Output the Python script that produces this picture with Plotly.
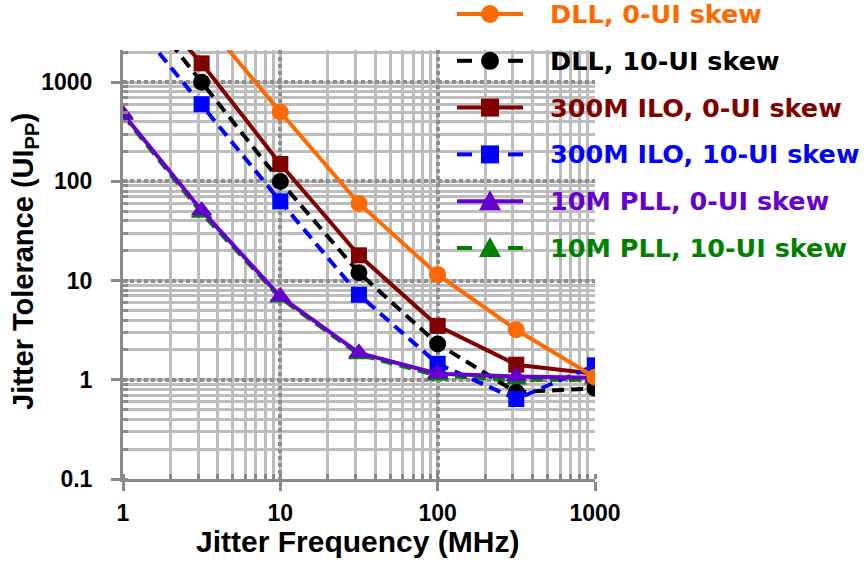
import plotly.graph_objects as go

# Jitter frequency sweep points (MHz)
freq_mhz = [1, 3.16, 10, 31.6, 100, 316, 1000]

# Jitter tolerance (UIpp) per configuration
dll_0ui = [None, 4500, 500, 60, 11.5, 3.2, 1.06]
dll_10ui = [10000, 1000, 100, 12, 2.3, 0.75, 0.82]
ilo_0ui = [12000, 1550, 150, 18, 3.5, 1.42, 1.15]
ilo_10ui = [5500, 600, 63, 7.2, 1.45, 0.64, 1.4]
pll_0ui = [480, 51, 6.9, 1.87, 1.15, 1.08, 1.05]
pll_10ui = [465, 48, 6.7, 1.8, 1.1, 1.0, 1.0]

series_names = [
    "DLL, 0-UI skew",
    "DLL, 10-UI skew",
    "300M ILO, 0-UI skew",
    "300M ILO, 10-UI skew",
    "10M PLL, 0-UI skew",
    "10M PLL, 10-UI skew",
]

y_tickvals = [0.1, 1, 10, 100, 1000]
y_ticktext = ["0.1", "1", "10", "100", "1000"]
x_tickvals = [1, 10, 100, 1000]
x_ticktext = ["1", "10", "100", "1000"]

# ---- styling ----
W, H = 864, 565
PLOT_L, PLOT_R, PLOT_T, PLOT_B = 123, 595, 50, 479
AXIS_GRAY = "#8a8a8a"
MAJOR_GRID = "#8f8f8f"
MINOR_GRID = "#bdbdbd"
LABEL_FONT = "Liberation Sans, Arial, sans-serif"
LEGEND_FONT = "DejaVu Sans, Verdana, sans-serif"
LW = 4
DASH = "12px,7px"

styles = {
    "DLL, 0-UI skew": dict(color="#FF6A00", dash="solid", symbol="circle", size=17),
    "DLL, 10-UI skew": dict(color="#000000", dash=DASH, symbol="circle", size=17),
    "300M ILO, 0-UI skew": dict(color="#800000", dash="solid", symbol="square", size=16),
    "300M ILO, 10-UI skew": dict(color="#0000FF", dash=DASH, symbol="square", size=16),
    "10M PLL, 0-UI skew": dict(color="#6600CC", dash="solid", symbol="triangle-up", size=19),
    "10M PLL, 10-UI skew": dict(color="#008000", dash=DASH, symbol="triangle-up", size=19),
}
values = dict(zip(series_names, [dll_0ui, dll_10ui, ilo_0ui, ilo_10ui, pll_0ui, pll_10ui]))

# stacking order (bottom to top)
draw_order = [
    "10M PLL, 10-UI skew",
    "300M ILO, 0-UI skew",
    "DLL, 10-UI skew",
    "300M ILO, 10-UI skew",
    "10M PLL, 0-UI skew",
    "DLL, 0-UI skew",
]

fig = go.Figure()
for name in draw_order:
    st = styles[name]
    fig.add_trace(go.Scatter(
        x=freq_mhz, y=values[name], name=name, mode="lines+markers",
        line=dict(color=st["color"], width=LW, dash=st["dash"]),
        marker=dict(color=st["color"], symbol=st["symbol"], size=st["size"], line=dict(width=0)),
        connectgaps=False, showlegend=False,
    ))


def paper_x(px):
    return (px - PLOT_L) / (PLOT_R - PLOT_L)


def paper_y(py):
    return (PLOT_B - py) / (PLOT_B - PLOT_T)


# ---- hand-built legend (long sample lines, text in series colour) ----
LEG_X0, LEG_X1, LEG_MID, LEG_TEXT_X = 457, 523, 490, 548
LEG_ROW0, LEG_ROW_STEP = 14, 46.8
shapes = []
annotations = []
for i, name in enumerate(series_names):
    st = styles[name]
    yrow = paper_y(LEG_ROW0 + i * LEG_ROW_STEP)
    if st["dash"] == "solid":
        segs = [(LEG_X0, LEG_X1)]
    else:
        segs = [(LEG_X0, LEG_X0 + 15), (LEG_X1 - 15, LEG_X1)]
    for a, b in segs:
        shapes.append(dict(type="line", xref="paper", yref="paper",
                           x0=paper_x(a), x1=paper_x(b), y0=yrow, y1=yrow,
                           line=dict(color=st["color"], width=LW)))
    common = dict(xref="paper", yref="paper", xsizemode="pixel", ysizemode="pixel",
                  xanchor=paper_x(LEG_MID), yanchor=yrow,
                  fillcolor=st["color"], line=dict(width=0))
    r = 9
    if st["symbol"] == "circle":
        shapes.append(dict(type="circle", x0=-r, x1=r, y0=-r, y1=r, **common))
    elif st["symbol"] == "square":
        shapes.append(dict(type="rect", x0=-r, x1=r, y0=-r, y1=r, **common))
    else:
        shapes.append(dict(type="path", path="M -11 -9 L 11 -9 L 0 11 Z", **common))
    annotations.append(dict(
        text=f"<b>{name}</b>", xref="paper", yref="paper",
        x=paper_x(LEG_TEXT_X), y=yrow, xanchor="left", yanchor="middle",
        showarrow=False, font=dict(family=LEGEND_FONT, size=25.5, color=st["color"]),
    ))

# axis titles
annotations.append(dict(
    text="<b>Jitter Frequency (MHz)</b>", xref="paper", yref="paper",
    x=paper_x(357), y=paper_y(541), xanchor="center", yanchor="middle",
    showarrow=False, font=dict(family=LABEL_FONT, size=30, color="#000000"),
))
annotations.append(dict(
    text="<b>Jitter Tolerance (UI<sub>PP</sub>)</b>", xref="paper", yref="paper",
    x=paper_x(25), y=paper_y(262), xanchor="center", yanchor="middle", textangle=-90,
    showarrow=False, font=dict(family=LABEL_FONT, size=29, color="#000000"),
))

grid_common = dict(
    ticks="outside", ticklen=9, tickwidth=3, tickcolor=AXIS_GRAY,
    showline=True, linecolor=AXIS_GRAY, linewidth=3,
    showgrid=True, gridcolor=MAJOR_GRID, gridwidth=4, griddash="4px,3px",
    minor=dict(dtick="D1", showgrid=True, gridcolor=MINOR_GRID, gridwidth=3,
               griddash="solid",
               ticks="inside", ticklen=5, tickwidth=3, tickcolor=AXIS_GRAY),
    zeroline=False, fixedrange=True,
)

fig.update_xaxes(
    type="log", range=[0, 3],
    tickvals=x_tickvals, ticktext=x_ticktext,
    tickfont=dict(family=LABEL_FONT, size=23, color="#000000", weight="bold"),
    ticklabelstandoff=2,
    **grid_common,
)
fig.update_yaxes(
    type="log", range=[-1, 3.325],
    tickvals=y_tickvals, ticktext=y_ticktext,
    tickfont=dict(family=LABEL_FONT, size=23, color="#000000", weight="bold"),
    ticklabelstandoff=14,
    **grid_common,
)

fig.update_layout(
    width=W, height=H,
    margin=dict(l=PLOT_L, r=W - PLOT_R, t=PLOT_T, b=H - PLOT_B, pad=0),
    paper_bgcolor="white", plot_bgcolor="white",
    shapes=shapes, annotations=annotations,
    showlegend=False,
)

fig.write_html("out.html")
